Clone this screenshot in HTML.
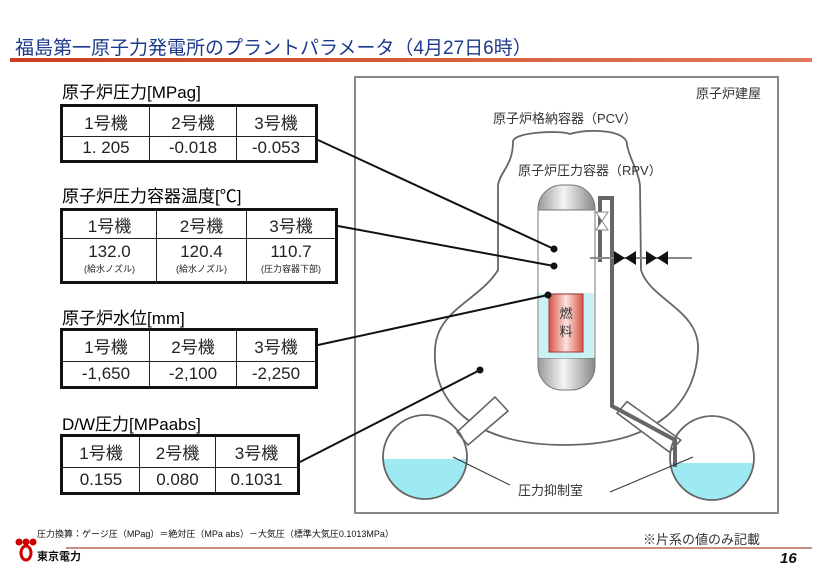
<!DOCTYPE html>
<html><head><meta charset="utf-8"><style>
body{margin:0;width:826px;height:587px;background:#fff;position:relative;overflow:hidden;font-family:"Liberation Sans","Noto Sans CJK JP",sans-serif;}
.t{position:absolute;white-space:nowrap;}
table{position:absolute;border-collapse:collapse;border:3px solid #111;}
td{border:1px solid #222;text-align:center;color:#222;padding:0;font-size:17px;}
</style></head><body>
<div class="t" style="left:15px;top:33px;font-size:19px;color:#1d3a8c;">福島第一原子力発電所のプラントパラメータ（4月27日6時）</div>
<div style="position:absolute;left:10px;top:58px;width:802px;height:4px;background:linear-gradient(90deg,#c8401e,#e07a5a);"></div>

<div class="t" style="left:62px;top:78px;font-size:17px;">原子炉圧力[MPag]</div>
<table style="left:60px;top:104px;width:258px;height:59px;">
<tr><td style="width:86px">1号機</td><td style="width:86px">2号機</td><td>3号機</td></tr>
<tr><td>1. 205</td><td>-0.018</td><td>-0.053</td></tr></table>

<div class="t" style="left:62px;top:182px;font-size:17px;">原子炉圧力容器温度[℃]</div>
<table style="left:60px;top:208px;width:278px;height:76px;">
<tr style="height:29px"><td style="width:93px">1号機</td><td style="width:89px">2号機</td><td>3号機</td></tr>
<tr><td style="line-height:15px">132.0<br><span style="font-size:9px">(給水ノズル)</span></td><td style="line-height:15px">120.4<br><span style="font-size:9px">(給水ノズル)</span></td><td style="line-height:15px">110.7<br><span style="font-size:9px">(圧力容器下部)</span></td></tr></table>

<div class="t" style="left:62px;top:304px;font-size:17px;">原子炉水位[mm]</div>
<table style="left:60px;top:328px;width:258px;height:61px;">
<tr><td style="width:86px">1号機</td><td style="width:86px">2号機</td><td>3号機</td></tr>
<tr><td>-1,650</td><td>-2,100</td><td>-2,250</td></tr></table>

<div class="t" style="left:62px;top:410px;font-size:17px;">D/W圧力[MPaabs]</div>
<table style="left:60px;top:434px;width:240px;height:61px;">
<tr><td style="width:76px">1号機</td><td style="width:75px">2号機</td><td>3号機</td></tr>
<tr><td>0.155</td><td>0.080</td><td>0.1031</td></tr></table>

<svg style="position:absolute;left:0;top:0" width="826" height="587">
<defs>
<linearGradient id="g" x1="0" x2="1"><stop offset="0" stop-color="#999"/><stop offset=".45" stop-color="#f4f4f4"/><stop offset="1" stop-color="#888"/></linearGradient>
<linearGradient id="r" x1="0" x2="1"><stop offset="0" stop-color="#d9534a"/><stop offset=".5" stop-color="#fbe3de"/><stop offset="1" stop-color="#d9534a"/></linearGradient>
</defs>
<rect x="355" y="77" width="423" height="436" fill="none" stroke="#888" stroke-width="2"/>
<text x="696" y="98" font-size="13" fill="#333">原子炉建屋</text>
<text x="493" y="123" font-size="13" fill="#333">原子炉格納容器（PCV）</text>
<path d="M513,142 C512,132 560,130 570,134 C590,128 628,130 627,145 C630,160 638,170 640,185 L641,270 C650,300 700,310 698,350 C696,400 660,445 565,445 C470,445 432,400 435,350 C436,310 480,300 498,270 L498,185 C500,172 513,165 513,142 Z" fill="none" stroke="#666" stroke-width="1.8"/>
<text x="518" y="175" font-size="13" fill="#333">原子炉圧力容器（RPV）</text>
<g fill="#fff" stroke="#666" stroke-width="1.6">
<polygon points="457,432 495,397 508,411 468,445"/>
<polygon points="620,410 683,430 676,445 614,424" transform="rotate(18 650 428)"/>
</g>
<clipPath id="c1"><circle cx="425" cy="457" r="42"/></clipPath>
<clipPath id="c2"><circle cx="712" cy="458" r="42"/></clipPath>
<rect x="380" y="459" width="90" height="45" fill="#9eeaf2" clip-path="url(#c1)"/>
<rect x="668" y="463" width="90" height="45" fill="#9eeaf2" clip-path="url(#c2)"/>
<circle cx="425" cy="457" r="42" fill="none" stroke="#666" stroke-width="1.8"/>
<circle cx="712" cy="458" r="42" fill="none" stroke="#666" stroke-width="1.8"/>
<rect x="538" y="185" width="57" height="205" rx="24" fill="url(#g)" stroke="#777"/>
<rect x="538" y="210" width="57" height="148" fill="#fff" stroke="#777"/>
<rect x="539" y="293" width="55" height="65" fill="#c8f2f6"/>
<rect x="549" y="294" width="34" height="58" fill="url(#r)" stroke="#a33"/>
<text x="566" y="318" font-size="13" text-anchor="middle" fill="#333">燃</text>
<text x="566" y="336" font-size="13" text-anchor="middle" fill="#333">料</text>
<polyline points="600,262 600,198 612,198 612,406 675,440 675,467" fill="none" stroke="#666" stroke-width="4"/>
<polygon points="596,212 608,212 596,230 608,230" fill="#fff" stroke="#888"/>
<line x1="590" y1="258" x2="692" y2="258" stroke="#888" stroke-width="2"/>
<polygon points="614,251 614,265 636,251 636,265" fill="#111"/>
<polygon points="646,251 646,265 668,251 668,265" fill="#111"/>
<g stroke="#111" stroke-width="2"><line x1="318" y1="140" x2="554" y2="249"/><line x1="338" y1="226" x2="554" y2="266"/><line x1="318" y1="345" x2="548" y2="295"/><line x1="300" y1="462" x2="480" y2="370"/></g>
<g fill="#111"><circle cx="554" cy="249" r="3.5"/><circle cx="554" cy="266" r="3.5"/><circle cx="548" cy="295" r="3.5"/><circle cx="480" cy="370" r="3.5"/></g>
<text x="518" y="495" font-size="13" fill="#333">圧力抑制室</text>
<line x1="453" y1="457" x2="510" y2="485" stroke="#333"/>
<line x1="610" y1="492" x2="693" y2="457" stroke="#333"/>
<line x1="66" y1="548" x2="812" y2="548" stroke="#b56a5a" stroke-width="1.5"/>
<circle cx="19" cy="542" r="3.5" fill="#c00"/><circle cx="26" cy="542" r="3.5" fill="#c00"/><circle cx="33" cy="542" r="3.5" fill="#c00"/>
<ellipse cx="26" cy="553" rx="5" ry="7" fill="none" stroke="#c00" stroke-width="3"/>
</svg>
<div class="t" style="left:37px;top:527px;font-size:9px;color:#111;">圧力換算：ゲージ圧（MPag）＝絶対圧（MPa abs）－大気圧（標準大気圧0.1013MPa）</div>
<div class="t" style="left:643px;top:529px;font-size:13px;color:#333;">※片系の値のみ記載</div>
<div class="t" style="left:37px;top:548px;font-size:11px;font-weight:bold;color:#111;">東京電力</div>
<div class="t" style="left:780px;top:550px;font-size:15px;font-weight:bold;font-style:italic;color:#111;">16</div>
</body></html>
